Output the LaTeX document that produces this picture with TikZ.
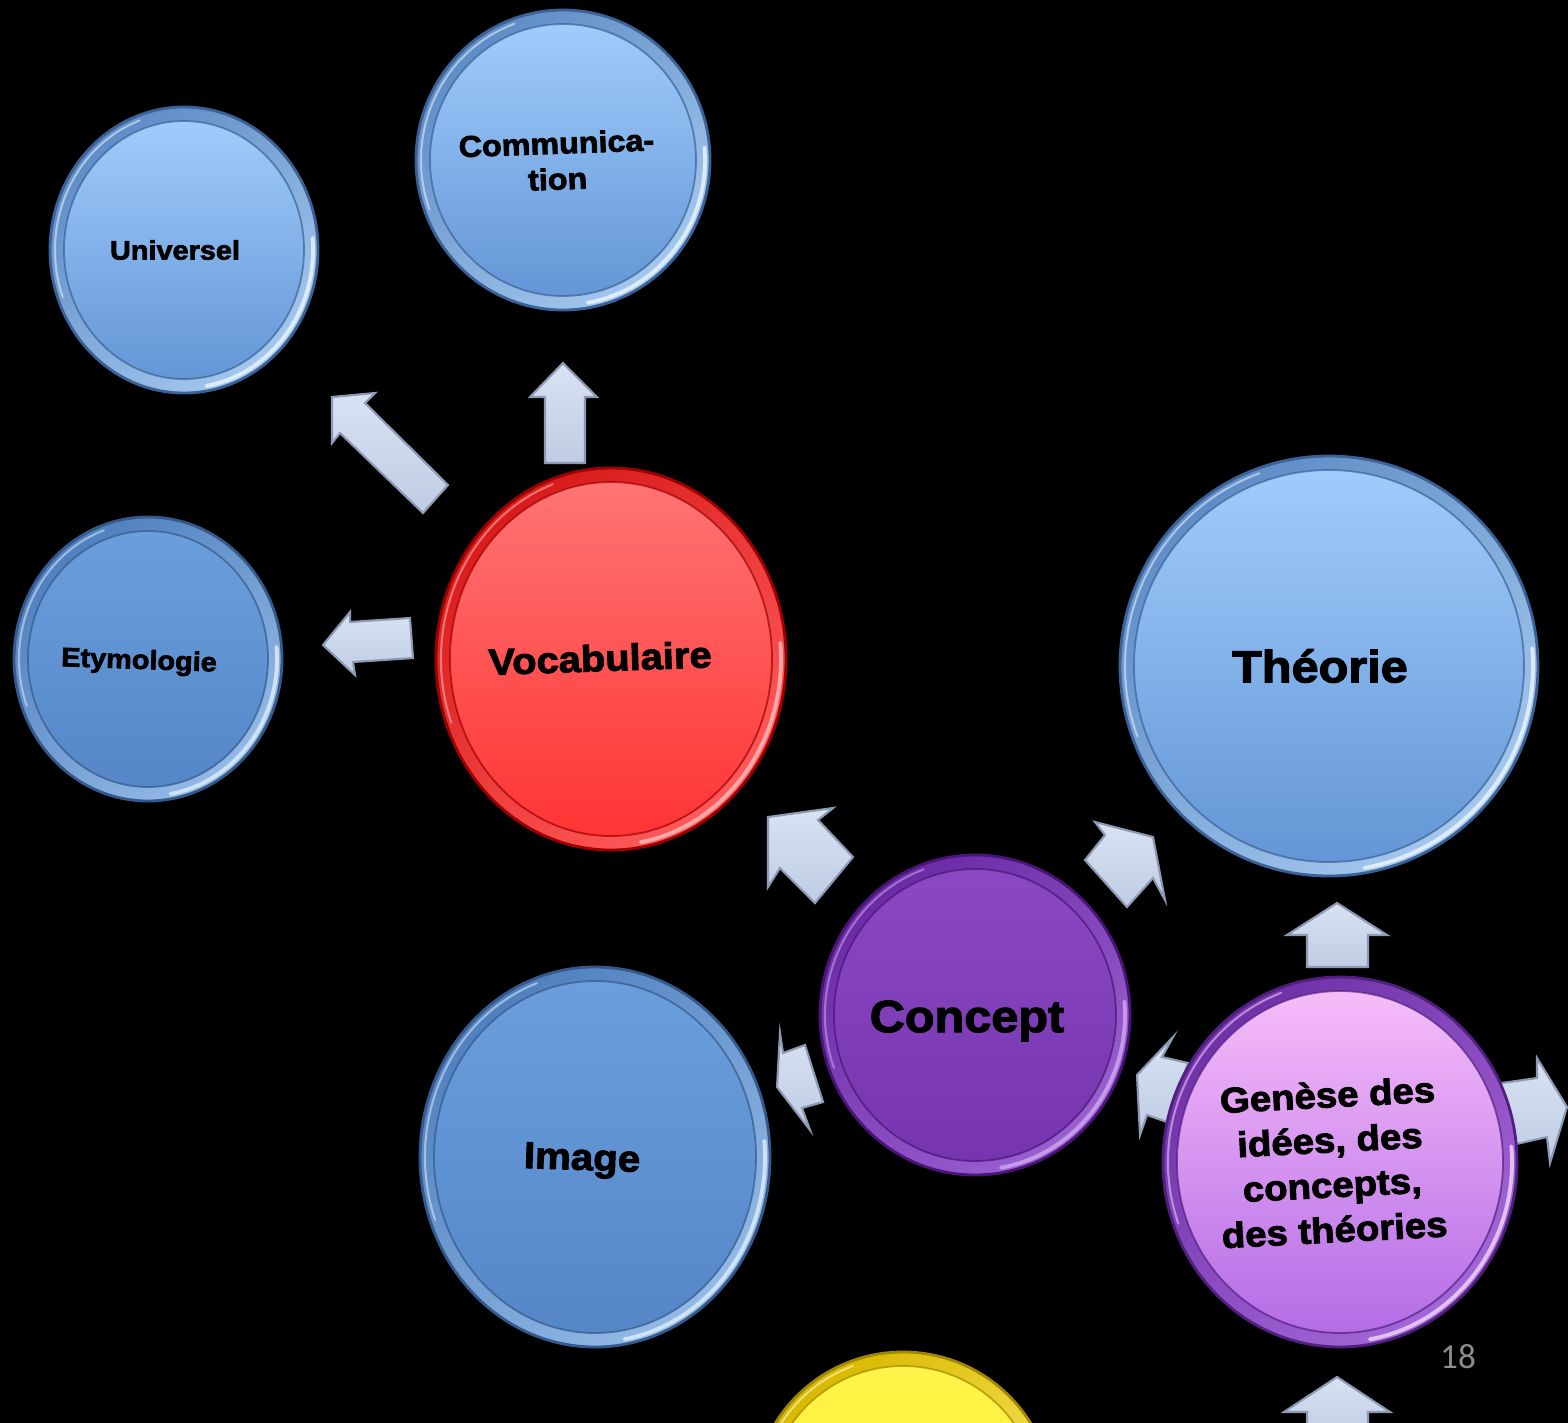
\documentclass[tikz,border=0pt]{standalone}
\usepackage{fontspec}
\newfontfamily\blk{Liberation Sans}[FakeStretch=1.08, BoldFeatures={FakeBold=2.6}]
\newfontfamily\pagenum{Carlito}

% colour schemes for the bevelled discs: Top/Bot face, RimA/RimB rim, Edge outline, Hi gleam
\definecolor{skyTop}{HTML}{9FCCFC}\definecolor{skyBot}{HTML}{6496D6}
\definecolor{skyRimA}{HTML}{5E8CC6}\definecolor{skyRimB}{HTML}{A4C8EE}
\definecolor{skyEdge}{HTML}{3A6296}\definecolor{skyHi}{HTML}{E8F2FD}
\definecolor{deepTop}{HTML}{6B9EDD}\definecolor{deepBot}{HTML}{5587C8}
\definecolor{deepRimA}{HTML}{4F7FBE}\definecolor{deepRimB}{HTML}{94BAE6}
\definecolor{deepEdge}{HTML}{34598A}\definecolor{deepHi}{HTML}{DCEAF8}
\definecolor{redTop}{HTML}{FF7474}\definecolor{redBot}{HTML}{FF3434}
\definecolor{redRimA}{HTML}{D81A1A}\definecolor{redRimB}{HTML}{FF5A5A}
\definecolor{redEdge}{HTML}{A00000}\definecolor{redHi}{HTML}{FFB8B8}
\definecolor{vioTop}{HTML}{8A48C2}\definecolor{vioBot}{HTML}{7634AE}
\definecolor{vioRimA}{HTML}{6A2AA4}\definecolor{vioRimB}{HTML}{9A60D0}
\definecolor{vioEdge}{HTML}{4A1478}\definecolor{vioHi}{HTML}{CCA6EE}
\definecolor{orcTop}{HTML}{F6BCF9}\definecolor{orcBot}{HTML}{B46CE6}
\definecolor{orcRimA}{HTML}{7030A8}\definecolor{orcRimB}{HTML}{A466D8}
\definecolor{orcEdge}{HTML}{50207E}\definecolor{orcHi}{HTML}{EED2F8}
\definecolor{yelTop}{HTML}{FFF44A}\definecolor{yelBot}{HTML}{FFE820}
\definecolor{yelRimA}{HTML}{D8B800}\definecolor{yelRimB}{HTML}{FFF070}
\definecolor{yelEdge}{HTML}{A08800}\definecolor{yelHi}{HTML}{FFFBD0}
\definecolor{arrowTop}{HTML}{D8E2F2}\definecolor{arrowBot}{HTML}{BFCCE4}
\definecolor{arrowEdge}{HTML}{8D9AB3}
\definecolor{pagegray}{HTML}{8C8C8C}

% a bevelled disc: name, x, y, x radius, y radius, scheme
\newcommand\bubble[6]{%
  \pgfmathsetmacro\rxa{#4-14}\pgfmathsetmacro\rya{#5-14}%
  \pgfmathsetmacro\rxb{#4-5}\pgfmathsetmacro\ryb{#5-5}%
  \pgfmathsetmacro\hxa{\rxb*cos(-5)}\pgfmathsetmacro\hya{\ryb*sin(-5)}%
  \pgfmathsetmacro\hxb{\rxb*cos(160)}\pgfmathsetmacro\hyb{\ryb*sin(160)}%
  \coordinate (#1) at (#2,#3);
  \shade[top color=#6RimA, bottom color=#6RimB, shading angle=40]
    (#1) ellipse [x radius=#4, y radius=#5];
  \draw[#6Edge, line width=0.8] (#1) ellipse [x radius=#4, y radius=#5];
  \draw[#6Hi, line width=1.1, opacity=.85, line cap=round]
    (#1) ++(\hxa,\hya) arc [start angle=-5, end angle=80, x radius=\rxb, y radius=\ryb];
  \draw[#6Hi, line width=0.6, opacity=.55, line cap=round]
    (#1) ++(\hxb,\hyb) arc [start angle=160, end angle=250, x radius=\rxb, y radius=\ryb];
  \shade[top color=#6Top, bottom color=#6Bot]
    (#1) ellipse [x radius=\rxa, y radius=\rya];
  \draw[#6Edge, line width=0.5, opacity=.7] (#1) ellipse [x radius=\rxa, y radius=\rya];
}

\tikzset{
  blockarrow/.style={draw=arrowEdge, line width=0.6, top color=arrowTop,
    bottom color=arrowBot, line join=miter},
  txt/.style n args={2}{font=\blk\bfseries\fontsize{#1}{#2}\selectfont,
    text=black, align=center, inner sep=0},
}

\begin{document}
\begin{tikzpicture}[x=0.01cm, y=-0.01cm]
  \useasboundingbox (0,0) rectangle (1568,1423);
  \fill[black] (0,0) rectangle (1568,1423);
  \clip (0,0) rectangle (1568,1423);

  % block arrows
  \path[blockarrow] (332,397) -- (375,393) -- (365,403) -- (448,485) -- (423,513) -- (340,433) -- (332,443) -- cycle;
  \path[blockarrow] (563,363) -- (597,397) -- (585,397) -- (585,463) -- (545,463) -- (545,397) -- (530,397) -- cycle;
  \path[blockarrow] (323,645) -- (350,612) -- (350,622) -- (410,618) -- (413,658) -- (353,662) -- (355,675) -- cycle;
  \path[blockarrow] (768,817) -- (833,808) -- (818,820) -- (853,857) -- (815,903) -- (780,868) -- (768,887) -- cycle;
  \path[blockarrow] (1153,837) -- (1095,822) -- (1105,835) -- (1085,860) -- (1127,907) -- (1153,878) -- (1165,900) -- cycle;
  \path[blockarrow] (777,1087) -- (780,1033) -- (783,1053) -- (805,1045) -- (823,1102) -- (802,1108) -- (810,1130) -- cycle;
  \path[blockarrow] (1137,1075) -- (1173,1037) -- (1162,1057) -- (1188,1063) -- (1167,1122) -- (1147,1115) -- (1140,1135) -- cycle;
  \path[blockarrow] (1337,903) -- (1387,935) -- (1368,935) -- (1368,967) -- (1307,967) -- (1307,935) -- (1287,935) -- cycle;
  \path[blockarrow] (1567,1107) -- (1550,1163) -- (1547,1137) -- (1490,1150) -- (1488,1085) -- (1537,1078) -- (1537,1058) -- cycle;
  \path[blockarrow] (1337,1377) -- (1390,1412) -- (1368,1412) -- (1368,1440) -- (1307,1440) -- (1307,1412) -- (1284,1412) -- cycle;

  % discs
  \bubble{uni}{184}{250}{134}{143}{sky}
  \bubble{com}{563}{160}{147}{150}{sky}
  \bubble{ety}{148}{659}{134}{142}{deep}
  \bubble{voc}{611}{659}{175}{191}{red}
  \bubble{the}{1329}{666}{209}{210}{sky}
  \bubble{con}{975}{1015}{155}{160}{vio}
  \bubble{img}{595}{1157}{175}{190}{deep}
  \bubble{gen}{1340}{1162}{177}{185}{orc}
  \bubble{yel}{903}{1502}{150}{150}{yel}

  % labels
  \node[txt={7.6}{9}] (uni-t) at (175,250) {Universel};
  \node[txt={8.5}{10.2}, rotate=2] (com-t) at (557,161) {Communica-\\tion};
  \node[txt={7.6}{9}, rotate=-2] (ety-t) at (139,662) {Etymologie};
  \node[txt={10.5}{12}, rotate=2] (voc-t) at (600,658) {Vocabulaire};
  \node[txt={12.8}{15}] (the-t) at (1320,666) {Théorie};
  \node[txt={12.8}{15}] (con-t) at (967,1021) {Concept};
  \node[txt={10.6}{12}, rotate=-2] (img-t) at (582,1161) {Image};
  \node[txt={10.1}{12.8}, rotate=3] (gen-t) at (1331,1162)
    {Genèse des\\idées, des\\concepts,\\des théories};

  \node[font=\pagenum\fontsize{10}{12}\selectfont, text=pagegray, inner sep=0] (page) at (1458,1357) {18};
\end{tikzpicture}
\end{document}
